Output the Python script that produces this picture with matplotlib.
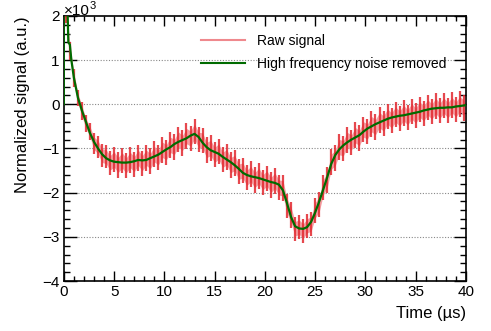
import matplotlib
matplotlib.use("Agg")
import matplotlib.pyplot as plt
from matplotlib.lines import Line2D
from matplotlib.ticker import MultipleLocator

plt.rcParams["font.family"] = ["Liberation Sans", "DejaVu Sans"]

# raw signal: one oscillation every 0.4 us, upper and lower extremes (x10^3)
raw_time = [0.2 + 0.4 * k for k in range(100)]
raw_high = [2.50, 1.40, 0.80, 0.32, 0.05, -0.25, -0.42, -0.65, -0.72, -0.90,
            -0.92, -1.05, -0.96, -1.09, -0.98, -1.10, -0.97, -1.07, -0.92, -1.05,
            -0.92, -1.00, -0.84, -0.92, -0.74, -0.80, -0.63, -0.68, -0.51, -0.59,
            -0.43, -0.49, -0.33, -0.52, -0.53, -0.75, -0.70, -0.86, -0.78, -0.97,
            -0.91, -1.09, -1.04, -1.24, -1.21, -1.38, -1.29, -1.43, -1.33, -1.48,
            -1.39, -1.54, -1.44, -1.60, -1.61, -2.02, -2.21, -2.54, -2.51, -2.60,
            -2.48, -2.44, -2.11, -1.98, -1.59, -1.43, -1.01, -0.93, -0.68, -0.71,
            -0.52, -0.58, -0.41, -0.48, -0.28, -0.33, -0.16, -0.23, -0.07, -0.15,
            0.01, -0.08, 0.06, -0.04, 0.09, -0.01, 0.13, 0.03, 0.17, 0.08,
            0.22, 0.12, 0.25, 0.14, 0.26, 0.15, 0.27, 0.17, 0.29, 0.20]
raw_low = [1.85, 1.00, 0.40, -0.05, -0.36, -0.62, -0.82, -1.12, -1.22, -1.42,
           -1.45, -1.60, -1.54, -1.66, -1.56, -1.67, -1.55, -1.64, -1.50, -1.62,
           -1.50, -1.57, -1.42, -1.49, -1.32, -1.37, -1.21, -1.25, -1.09, -1.16,
           -1.01, -1.06, -0.91, -1.09, -1.11, -1.32, -1.28, -1.43, -1.36, -1.54,
           -1.49, -1.66, -1.62, -1.81, -1.79, -1.95, -1.87, -2.00, -1.91, -2.05,
           -1.97, -2.11, -2.02, -2.17, -2.19, -2.58, -2.79, -3.10, -3.05, -3.14,
           -3.02, -2.98, -2.69, -2.55, -2.17, -2.00, -1.59, -1.50, -1.26, -1.28,
           -1.10, -1.15, -0.99, -1.05, -0.86, -0.90, -0.74, -0.80, -0.65, -0.72,
           -0.57, -0.65, -0.52, -0.61, -0.49, -0.58, -0.45, -0.54, -0.41, -0.49,
           -0.36, -0.45, -0.33, -0.43, -0.32, -0.42, -0.31, -0.40, -0.28, -0.37]

# filtered signal (x10^3)
smooth_time = [0.0, 0.0, 0.35, 0.45, 0.6, 0.75, 1.0, 1.4, 1.8, 2.2, 2.6, 3.0, 3.4, 3.8,
               4.2, 4.6, 5.0, 5.4, 5.8, 6.2, 6.6, 7.0, 7.4, 7.8, 8.2, 8.6, 9.0, 9.4,
               9.8, 10.2, 10.6, 11.0, 11.4, 11.8, 12.2, 12.6, 13.0, 13.4, 13.8, 14.2,
               14.6, 15.0, 15.4, 15.8, 16.2, 16.6, 17.0, 17.4, 17.8, 18.2, 18.6, 19.0,
               19.4, 19.8, 20.2, 20.6, 21.0, 21.4, 21.8, 22.2, 22.6, 23.0, 23.4, 23.8,
               24.2, 24.6, 25.0, 25.4, 25.8, 26.2, 26.6, 27.0, 27.4, 27.8, 28.2, 28.6,
               29.0, 29.4, 29.8, 30.2, 30.6, 31.0, 31.4, 31.8, 32.2, 32.6, 33.0, 33.4,
               33.8, 34.2, 34.6, 35.0, 35.4, 35.8, 36.2, 36.6, 37.0, 37.4, 37.8, 38.2,
               38.6, 39.0, 39.4, 40.0]
smooth_value = [0.0, 2.3, 2.3, 1.40, 1.35, 1.00, 0.60, 0.15, -0.14, -0.40, -0.65, -0.85,
                -1.00, -1.13, -1.22, -1.27, -1.30, -1.31, -1.32, -1.32, -1.31, -1.29,
                -1.26, -1.27, -1.26, -1.22, -1.18, -1.14, -1.08, -1.02, -0.97, -0.90,
                -0.85, -0.81, -0.77, -0.71, -0.67, -0.74, -0.87, -0.97, -1.04, -1.08,
                -1.12, -1.19, -1.25, -1.31, -1.38, -1.46, -1.55, -1.60, -1.63, -1.65,
                -1.67, -1.70, -1.73, -1.76, -1.78, -1.82, -1.95, -2.24, -2.55, -2.76,
                -2.81, -2.82, -2.78, -2.66, -2.45, -2.20, -1.93, -1.65, -1.35, -1.15,
                -1.02, -0.93, -0.86, -0.80, -0.75, -0.70, -0.62, -0.55, -0.50, -0.45,
                -0.41, -0.37, -0.33, -0.30, -0.28, -0.26, -0.25, -0.23, -0.21, -0.19,
                -0.17, -0.14, -0.12, -0.10, -0.09, -0.08, -0.08, -0.07, -0.07, -0.05,
                -0.04, -0.02]

RED = "#e2282f"
PINK = "#f4a0a3"
GREEN = "#006b00"

fig = plt.figure(figsize=(4.91, 3.31), dpi=100)
ax = fig.add_axes([0.130, 0.151, 0.819, 0.801])

# pink body of the noise band, then the oscillation bars
band_lo = [lo + 0.2 * (hi - lo) for hi, lo in zip(raw_high, raw_low)]
band_hi = [hi - 0.2 * (hi - lo) for hi, lo in zip(raw_high, raw_low)]
ax.fill_between(raw_time, band_lo, band_hi, color=PINK, lw=0, zorder=2)
ax.vlines(raw_time, raw_low, raw_high, color=RED, lw=1.6, alpha=0.85, zorder=3)

ax.plot(smooth_time, smooth_value, color=GREEN, lw=1.6, zorder=4)

ax.set_xlim(0, 40)
ax.set_ylim(-4, 2)
ax.xaxis.set_major_locator(MultipleLocator(5))
ax.xaxis.set_minor_locator(MultipleLocator(1))
ax.yaxis.set_major_locator(MultipleLocator(1))
ax.yaxis.set_minor_locator(MultipleLocator(0.2))

for y in [-3, -2, -1, 0, 1]:
    ax.axhline(y, color="#888888", lw=0.8, ls=(0, (1, 1.5)), zorder=1)

ax.tick_params(which="both", direction="in", top=True, right=True,
               labelsize=11, width=1.0, pad=3)
ax.tick_params(axis="x", which="major", length=7)
ax.tick_params(axis="x", which="minor", length=3.5)
ax.tick_params(axis="y", which="major", length=9)
ax.tick_params(axis="y", which="minor", length=4.5)
for s in ax.spines.values():
    s.set_linewidth(1.2)

ax.set_xlabel("Time (µs)", fontsize=12, loc="right", labelpad=5)
ax.set_ylabel("Normalized signal (a.u.)", fontsize=12, loc="top")
ax.yaxis.set_label_coords(-0.083, 1.0)

ax.text(0.0, 1.004, "×10", transform=ax.transAxes, fontsize=11,
        ha="left", va="baseline")
ax.text(0.063, 1.027, "3", transform=ax.transAxes, fontsize=8,
        ha="left", va="baseline")

handles = [Line2D([], [], color=RED, alpha=0.55, lw=1.5),
           Line2D([], [], color=GREEN, lw=1.5)]
ax.legend(handles, ["Raw signal", "High frequency noise removed"],
          loc="upper left", bbox_to_anchor=(0.31, 0.98), frameon=False,
          fontsize=10, handlelength=3.2, handletextpad=0.8, labelspacing=0.65)

fig.savefig("out.png", dpi=100)
